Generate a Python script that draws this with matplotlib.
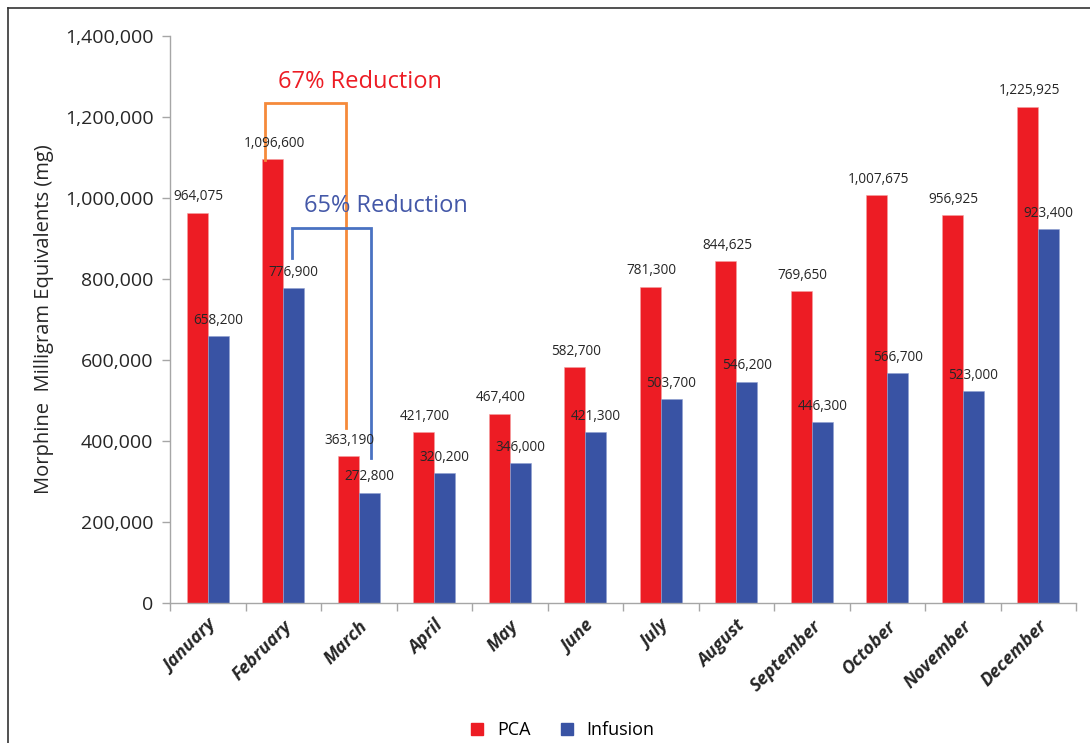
import matplotlib
matplotlib.use("Agg")
import matplotlib.pyplot as plt
import numpy as np
from matplotlib.lines import Line2D
from matplotlib.ticker import FuncFormatter, FixedLocator

months = ["January", "February", "March", "April", "May", "June", "July",
          "August", "September", "October", "November", "December"]
pca = [964075, 1096600, 363190, 421700, 467400, 582700, 781300,
       844625, 769650, 1007675, 956925, 1225925]
infusion = [658200, 776900, 272800, 320200, 346000, 421300, 503700,
            546200, 446300, 566700, 523000, 923400]
series_names = ["PCA", "Infusion"]
pca_reduction = "67% Reduction"
infusion_reduction = "65% Reduction"

RED = "#ED1C24"
BLUE = "#3953A4"
ORANGE = "#F58A3A"
BRACKET_BLUE = "#4A72C2"
TEXT = "#262626"
AXIS_GREY = "#A6A6A6"

fig = plt.figure(figsize=(10.9, 7.43), dpi=100)
ax = fig.add_axes([170 / 1090, 1 - 603 / 743, 906 / 1090, 567 / 743])

x = np.arange(len(months))
w = 0.28
ax.bar(x - w / 2, pca, width=w, color=RED, edgecolor="#F4A0A0", linewidth=0.4, zorder=2)
ax.bar(x + w / 2, infusion, width=w, color=BLUE, edgecolor="#8FA0D0", linewidth=0.4, zorder=2)

lab_font = dict(family="Open Sans", fontsize=9.8, color=TEXT)
for xi, v in zip(x, pca):
    ax.annotate(f"{v:,}", (xi - w / 2, v), xytext=(1, 6), textcoords="offset points",
                ha="center", va="bottom", zorder=4, **lab_font)
for xi, v in zip(x, infusion):
    ax.annotate(f"{v:,}", (xi + w / 2, v), xytext=(0, 6), textcoords="offset points",
                ha="center", va="bottom", zorder=4, **lab_font)

ax.set_xlim(-0.5, len(months) - 0.5)
ax.set_ylim(0, 1400000)
ax.yaxis.set_major_locator(FixedLocator(np.arange(0, 1400001, 200000)))
ax.yaxis.set_major_formatter(FuncFormatter(lambda v, p: f"{int(v):,}"))

ax.set_xticks(x)
ax.set_xticklabels(months, rotation=45, ha="right", rotation_mode="anchor",
                   fontsize=13, fontweight="bold", style="italic",
                   family="Open Sans", color=TEXT)
ax.xaxis.set_minor_locator(FixedLocator(np.arange(-0.5, len(months), 1.0)))
ax.tick_params(axis="x", which="major", length=0, pad=10)
ax.tick_params(axis="x", which="minor", length=6, color=AXIS_GREY, width=1)
ax.tick_params(axis="y", length=6, color=AXIS_GREY, width=1, labelsize=14,
               labelcolor=TEXT, pad=6)
for lab in ax.get_yticklabels():
    lab.set_family("Open Sans")

for s in ("top", "right"):
    ax.spines[s].set_visible(False)
for s in ("left", "bottom"):
    ax.spines[s].set_color(AXIS_GREY)
    ax.spines[s].set_linewidth(1)

ax.set_ylabel("Morphine  Milligram Equivalents (mg)", fontsize=14.5, color=TEXT,
              family="Open Sans", labelpad=8)

# reduction brackets, February to March
ax.plot([0.758, 0.758, 1.831, 1.831], [1093800, 1234600, 1234600, 432100],
        color=ORANGE, lw=2, zorder=3, solid_joinstyle="miter")
ax.plot([1.116, 1.116, 2.162, 2.162], [851900, 925900, 925900, 358000],
        color=BRACKET_BLUE, lw=2, zorder=3, solid_joinstyle="miter")
ax.text(2.016, 1286400, pca_reduction, color=RED, fontsize=17, ha="center",
        va="center", family="Open Sans", zorder=4)
ax.text(2.36, 980200, infusion_reduction, color="#4458A8", fontsize=17, ha="center",
        va="center", family="Open Sans", zorder=4)

handles = [Line2D([], [], marker="s", ls="", markersize=8.5, color=c) for c in (RED, BLUE)]
fig.legend(handles, series_names, loc="center", bbox_to_anchor=(557 / 1090, 1 - 730 / 743),
           ncol=2, frameon=False, handletextpad=0.1, columnspacing=1.0,
           prop=dict(family="Open Sans", size=13))

# frame lines along top and left
fig.add_artist(Line2D([8 / 1090, 1], [1 - 8 / 743, 1 - 8 / 743], color="#333333", lw=1.2,
                      transform=fig.transFigure))
fig.add_artist(Line2D([8 / 1090, 8 / 1090], [0, 1 - 8 / 743], color="#333333", lw=1.2,
                      transform=fig.transFigure))

fig.savefig("out.png", dpi=100)
